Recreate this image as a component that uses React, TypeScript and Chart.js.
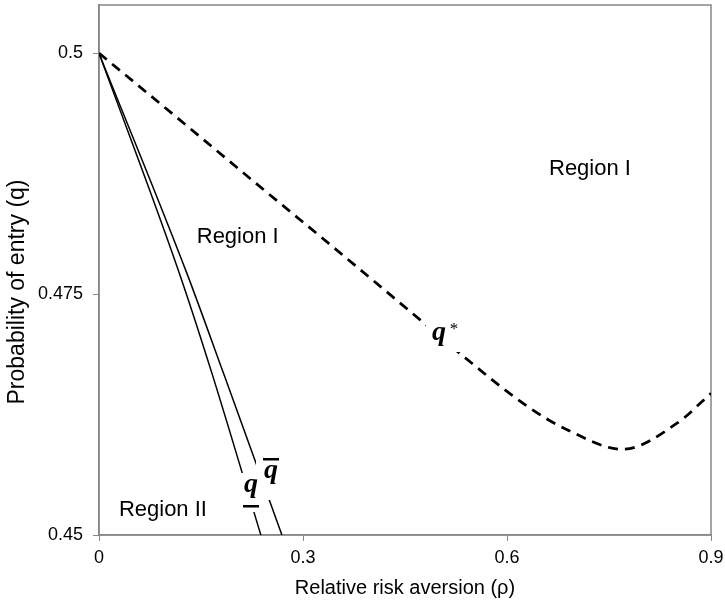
import React, { useEffect, useRef } from "react";
import { Chart, registerables } from "chart.js";

Chart.register(...registerables);

// q* (dashed) curve
const rhoStar = [0, 0.115, 0.229, 0.344, 0.471, 0.528, 0.631, 0.689, 0.77, 0.85, 0.9];
const qStar = [0.5, 0.4933, 0.4866, 0.4799, 0.4724, 0.469, 0.4633, 0.4609, 0.4589, 0.4616, 0.4647];

// lower bound q (underlined)
const rhoLower = [0, 0.118, 0.166, 0.238];
const qLower = [0.5, 0.4772, 0.4668, 0.45];

// upper bound q (overlined)
const rhoUpper = [0, 0.129, 0.183, 0.269];
const qUpper = [0.5, 0.4772, 0.4668, 0.45];

const xTicks = [0, 0.3, 0.6, 0.9];
const yTicks = [0.45, 0.475, 0.5];
const xTitle = "Relative risk aversion (ρ)";
const yTitle = "Probability of entry (q)";
const regionLabels = [
  { text: "Region I", rho: 0.204, q: 0.4809 },
  { text: "Region I", rho: 0.722, q: 0.488 },
  { text: "Region II", rho: 0.094, q: 0.4526 },
];

const SANS = '"Liberation Sans", Arial, sans-serif';
const SERIF = '"Liberation Serif", "Times New Roman", serif';
const AXIS = "#868686";

export default function App() {
  const ref = useRef<HTMLCanvasElement>(null);

  useEffect(() => {
    const canvas = ref.current;
    if (!canvas) return;
    const pts = (xs: number[], ys: number[]) => xs.map((x, i) => ({ x, y: ys[i] }));

    const annot = {
      id: "annot",
      beforeDatasetsDraw(chart: any) {
        const { ctx, chartArea: a } = chart;
        ctx.save();
        ctx.strokeStyle = AXIS;
        ctx.lineWidth = 1.5;
        ctx.strokeRect(a.left, a.top, a.right - a.left, a.bottom - a.top);
        ctx.restore();
      },
      afterDatasetsDraw(chart: any) {
        const { ctx } = chart;
        const xs = chart.scales.x;
        const ys = chart.scales.y;
        ctx.save();
        // region labels
        ctx.fillStyle = "#000";
        ctx.font = `22px ${SANS}`;
        ctx.textAlign = "center";
        ctx.textBaseline = "middle";
        for (const r of regionLabels) {
          ctx.fillText(r.text, xs.getPixelForValue(r.rho), ys.getPixelForValue(r.q));
        }
        // white boxes behind symbol labels
        ctx.fillStyle = "#fff";
        ctx.fillRect(256, 454, 28, 46);
        ctx.fillRect(241, 473, 21, 39);
        ctx.fillRect(426, 318, 34, 34);
        // q* label
        ctx.fillStyle = "#000";
        ctx.font = `italic bold 28px ${SERIF}`;
        ctx.textAlign = "center";
        ctx.textBaseline = "alphabetic";
        ctx.fillText("q", 439, 340);
        ctx.font = `17px ${SERIF}`;
        ctx.fillText("*", 454, 334);
        // overline q
        ctx.font = `italic bold 28px ${SERIF}`;
        ctx.fillText("q", 271, 478);
        ctx.fillRect(263, 458, 16, 2.5);
        // underline q
        ctx.fillText("q", 251, 492);
        ctx.fillRect(243, 505, 16, 2.5);
        // axis titles
        ctx.font = `20px ${SANS}`;
        ctx.textBaseline = "middle";
        ctx.fillText(xTitle, 405, 588);
        ctx.font = `23px ${SANS}`;
        ctx.translate(18, 292);
        ctx.rotate(-Math.PI / 2);
        ctx.fillText(yTitle, 0, 0);
        ctx.restore();
      },
    };

    const tickFont = { family: SANS, size: 18 };

    const chart = new Chart(canvas, {
      type: "line",
      data: {
        datasets: [
          {
            data: pts(rhoStar, qStar),
            borderColor: "#000",
            borderWidth: 2.75,
            borderDash: [10, 7],
            pointRadius: 0,
            cubicInterpolationMode: "monotone",
            fill: false,
          },
          {
            data: pts(rhoLower, qLower),
            borderColor: "#000",
            borderWidth: 1.5,
            pointRadius: 0,
            cubicInterpolationMode: "monotone",
            fill: false,
          },
          {
            data: pts(rhoUpper, qUpper),
            borderColor: "#000",
            borderWidth: 1.5,
            pointRadius: 0,
            cubicInterpolationMode: "monotone",
            fill: false,
          },
        ],
      },
      options: {
        animation: false,
        responsive: false,
        devicePixelRatio: 1,
        layout: { padding: { top: 5, right: 14, left: 0, bottom: 0 } },
        plugins: { legend: { display: false }, tooltip: { enabled: false } },
        scales: {
          x: {
            type: "linear",
            min: 0,
            max: 0.9,
            afterBuildTicks: (s: any) => {
              s.ticks = xTicks.map((v) => ({ value: v }));
            },
            afterFit: (s: any) => {
              s.height = 68;
              s.paddingLeft = 0;
              s.paddingRight = 0;
            },
            grid: { drawOnChartArea: false, drawTicks: true, tickLength: 6, color: AXIS },
            border: { color: AXIS, width: 1.5 },
            ticks: {
              font: tickFont,
              color: "#000",
              padding: 6,
              maxRotation: 0,
              autoSkip: false,
              callback: (v: any) => String(v),
            },
          },
          y: {
            type: "linear",
            min: 0.45,
            max: 0.505,
            afterBuildTicks: (s: any) => {
              s.ticks = yTicks.map((v) => ({ value: v }));
            },
            afterFit: (s: any) => {
              s.width = 99;
              s.paddingTop = 0;
              s.paddingBottom = 0;
            },
            grid: { drawOnChartArea: false, drawTicks: true, tickLength: 6, color: AXIS },
            border: { color: AXIS, width: 1.5 },
            ticks: {
              font: tickFont,
              color: "#000",
              padding: 10,
              autoSkip: false,
              callback: (v: any) => String(v),
            },
          },
        },
      },
      plugins: [annot],
    } as any);

    return () => chart.destroy();
  }, []);

  return (
    <canvas
      ref={ref}
      width={725}
      height={603}
      style={{ position: "absolute", left: 0, top: 0, width: 725, height: 603 }}
    />
  );
}
